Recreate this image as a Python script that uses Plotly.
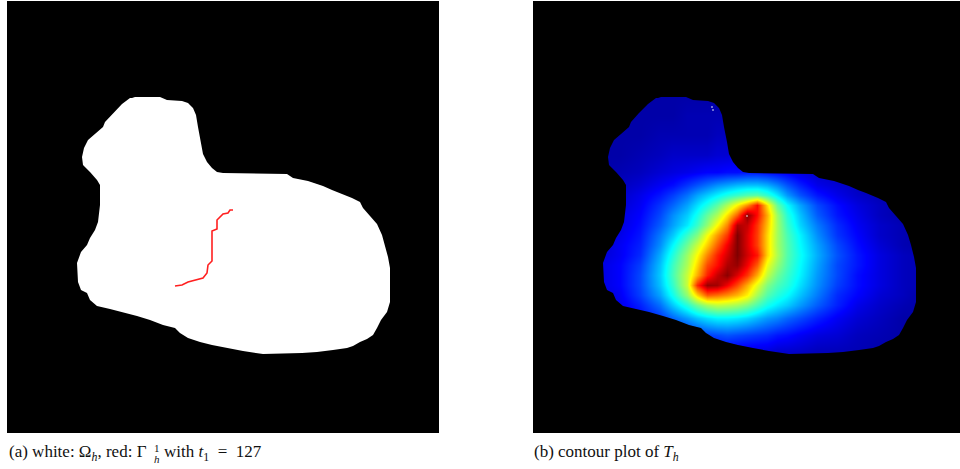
import plotly.graph_objects as go

W, H = 960, 469

# Region outline, in image pixels of each 432-pixel panel
outline_x = [125,128,153,160,175,181,186,189,191,194,196,200,205,210,216,280,286,301,316,325,333,345,353,356,363,370,375,378,381,383,383,383,380,374,370,366,360,353,346,340,326,310,295,256,236,220,205,193,181,173,168,156,143,130,116,103,90,83,80,74,71,70,74,80,83,88,91,93,93,90,83,76,75,77,81,88,96,98,106,115,123]
outline_y = [97,96,96,99,100,102,107,114,126,141,153,161,167,171,172,173,177,180,185,189,192,197,201,207,215,223,234,244,256,267,284,301,311,319,327,334,338,341,345,347,349,351,352,353,350,347,344,341,337,332,327,324,319,315,311,308,305,299,292,289,281,262,251,244,237,229,221,204,184,179,171,164,156,147,139,133,126,121,112,103,97]

# Level-set curve (red)
curve_x = [168,175,181,188,196,200,201,205,205,205,210,210,216,221,223,226]
curve_y = [285,284,281,279,277,272,264,260,230,230,228,219,213,212,209,209]

# Field T_h, percent of the colour range
grid_x = [67,87,107,127,140,154,164,174,184,194,204,214,224,234,244,254,267,284,304,324,347,370,387]
grid_y = [94,114,134,154,171,184,194,204,214,224,234,244,254,264,274,284,294,304,317,334,354]
field = [
 [3,3,3,3,3,3,3,3,3,3,3,3,3,3,3,3,3,3,3,3,3,3,3],
 [3,3,3,3,3,4,4,4,4,4,4,4,4,4,4,4,3,3,3,3,3,3,3],
 [3,3,3,4,4,4,4,4,5,5,5,5,5,5,5,4,4,3,3,3,3,3,3],
 [3,3,4,5,6,6,6,6,7,7,8,8,8,8,7,6,5,4,3,3,3,3,3],
 [3,4,5,7,8,9,10,11,11,12,12,13,13,12,11,10,8,6,5,4,3,3,3],
 [4,5,7,10,12,16,19,22,25,27,29,30,30,28,24,19,14,9,7,5,4,3,3],
 [5,6,9,13,17,22,27,31,35,39,42,45,46,41,34,26,19,13,9,6,4,3,3],
 [5,7,10,16,21,27,33,39,46,55,65,75,88,67,47,36,27,18,12,8,5,3,3],
 [6,8,11,18,25,31,38,47,55,67,80,99,88,72,53,40,30,20,13,9,5,3,3],
 [6,8,12,20,27,34,42,52,64,76,96,94,84,70,54,42,32,23,15,10,6,4,3],
 [6,9,13,23,31,42,50,63,74,84,100,92,83,68,54,44,35,25,16,11,6,4,3],
 [6,10,14,25,36,48,58,69,80,90,100,92,83,68,54,45,36,27,18,12,7,4,3],
 [7,10,15,28,40,53,64,76,86,93,100,93,87,68,55,45,37,28,19,13,8,5,4],
 [8,11,17,30,43,55,68,82,88,96,98,90,80,62,52,44,36,27,18,13,8,5,4],
 [8,11,18,31,44,58,72,86,94,99,92,84,72,57,48,42,35,26,18,12,8,5,4],
 [8,11,18,30,42,58,85,98,97,90,82,72,61,50,44,40,33,25,17,12,8,5,4],
 [7,10,17,27,38,52,68,80,78,75,71,65,54,45,40,36,30,23,15,11,7,5,3],
 [6,9,14,22,31,40,48,54,57,56,54,50,44,38,34,31,26,20,14,9,6,4,3],
 [5,8,11,16,21,26,30,33,35,35,34,32,29,26,24,21,18,14,10,7,5,3,3],
 [4,5,6,9,11,13,15,17,18,19,18,17,16,15,13,12,10,8,7,5,4,3,3],
 [3,3,4,4,4,5,5,5,6,6,6,6,6,6,5,5,5,4,4,4,3,3,3],
]
# Isolated white pixels
speck_x = [179,180,214]
speck_y = [106,109,215]

jet = [[0,"rgb(0,0,135)"],[0.11,"rgb(0,0,255)"],[0.36,"rgb(0,255,255)"],
       [0.64,"rgb(255,255,0)"],[0.89,"rgb(255,0,0)"],[1,"rgb(128,0,0)"]]

fig = go.Figure()
fig.add_trace(go.Scatter(x=outline_x, y=outline_y, fill="toself", fillcolor="white", mode="lines",
                         line=dict(color="white", width=0), xaxis="x", yaxis="y", hoverinfo="skip"))
fig.add_trace(go.Scatter(x=curve_x, y=curve_y, mode="lines", line=dict(color="#ff2020", width=1.6),
                         xaxis="x", yaxis="y", hoverinfo="skip"))
fig.add_trace(go.Heatmap(x=grid_x, y=grid_y, z=field, zmin=0, zmax=100, colorscale=jet, zsmooth="best",
                         showscale=False, xaxis="x2", yaxis="y2", hoverinfo="skip"))
fig.add_trace(go.Scatter(x=speck_x, y=speck_y, mode="markers", marker=dict(color="white", size=1.6),
                         xaxis="x2", yaxis="y2", hoverinfo="skip"))

mask = "M 0 0 H 432 V 432 H 0 Z M " + " L ".join(f"{a} {b}" for a, b in zip(outline_x, outline_y)) + " Z"

ax = dict(showgrid=False, zeroline=False, showticklabels=False, ticks="", showline=False)
ydom = [1 - 433 / H, 1 - 1 / H]
fig.update_layout(
    width=W, height=H, margin=dict(l=0, r=0, t=0, b=0), showlegend=False,
    paper_bgcolor="white", plot_bgcolor="black",
    xaxis=dict(domain=[7 / W, 439 / W], range=[0, 432], **ax),
    yaxis=dict(domain=ydom, range=[432, 0], **ax),
    xaxis2=dict(domain=[533 / W, 1], range=[0, 427], **ax),
    yaxis2=dict(domain=ydom, range=[432, 0], anchor="x2", **ax),
    shapes=[dict(type="path", path=mask, xref="x2", yref="y2", fillcolor="black",
                 fillrule="evenodd", line=dict(width=0), layer="above")],
)

def cap(x, y, text, size=17):
    fig.add_annotation(x=x / W, y=1 - y / H, xref="paper", yref="paper", text=text, showarrow=False,
                       xanchor="left", yanchor="middle", align="left", borderpad=0,
                       font=dict(family="Liberation Serif", size=size, color="#111111"))

cap(8, 453, "(a) white: Ω<sub><i>h</i></sub>, red: Γ")
cap(153, 448, "1", 11)
cap(153, 459, "<i>h</i>", 11)
cap(163, 453, "with <i>t</i><sub>1</sub>&nbsp; = &nbsp;127")
cap(533, 453, "(b) contour plot of <i>T</i><sub><i>h</i></sub>")

fig.write_html("out.html", config=dict(displayModeBar=False), post_script="document.body.style.margin='0';")
